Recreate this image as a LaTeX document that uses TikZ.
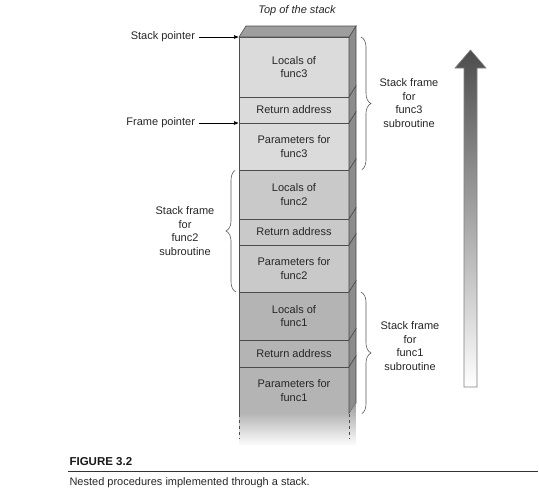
\documentclass[tikz,border=0pt]{standalone}
\usepackage{fontspec}
\setmainfont{Liberation Sans}
\usetikzlibrary{positioning,arrows,decorations.pathreplacing}
\tikzset{>=stealth'}
\definecolor{fthree}{HTML}{DBDBDB}
\definecolor{ftwo}{HTML}{C9C9C9}
\definecolor{fone}{HTML}{B4B4B4}
\definecolor{sideface}{HTML}{8C8C8C}
\definecolor{topface}{HTML}{9E9E9E}
\definecolor{ink}{HTML}{262626}

\begin{document}
\begin{tikzpicture}[x=1pt,y=-1pt,->,>=stealth',shorten >=1pt,
                    font=\fontsize{11}{13.5}\selectfont,text=ink]
      \tikzstyle{cell}=[draw=black!70,line width=0.6pt,minimum width=110pt,outer sep=0pt,inner sep=0pt,align=center]
      \tikzstyle{side}=[draw=black!70,line width=0.6pt,fill=sideface]
      \tikzstyle{frame}=[-,decorate,decoration={brace,amplitude=10pt},draw=black!65,line width=0.6pt]
      \tikzstyle{lbl}=[align=center]

      \useasboundingbox (0,0) rectangle (539,496);

      \node[cell]     (loc3)  [fill=fthree,minimum height=60pt,anchor=north west] at (239,37) {Locals of\\func3};
      \node[cell]     (ret3)  [fill=fthree,minimum height=26pt] [below=0pt of loc3] {Return address};
      \node[cell]     (par3)  [fill=fthree,minimum height=47pt] [below=0pt of ret3] {Parameters for\\func3};
      \node[cell]     (loc2)  [fill=ftwo,minimum height=49pt]   [below=0pt of par3] {Locals of\\func2};
      \node[cell]     (ret2)  [fill=ftwo,minimum height=26pt]   [below=0pt of loc2] {Return address};
      \node[cell]     (par2)  [fill=ftwo,minimum height=47pt]   [below=0pt of ret2] {Parameters for\\func2};
      \node[cell]     (loc1)  [fill=fone,minimum height=48pt]   [below=0pt of par2] {Locals of\\func1};
      \node[cell]     (ret1)  [fill=fone,minimum height=27pt]   [below=0pt of loc1] {Return address};
      \node[cell]     (par1)  [fill=fone,minimum height=47pt]   [below=0pt of ret1] {Parameters for\\func1};

      % side and top of the stack
      \foreach \n in {loc3,ret3,par3,loc2,ret2,par2,loc1,ret1,par1}
        \draw[side,-] (\n.north east) -- ++(7,-11) -- ([shift={(7,-11)}]\n.south east) -- (\n.south east) -- cycle;
      \draw[side,-,fill=topface] (loc3.north west) -- ++(7,-11) -- ([shift={(7,-11)}]loc3.north east) -- (loc3.north east) -- cycle;

      % the stack goes on below
      \shade[top color=black!38,bottom color=white] (par1.south west) -- (par1.south east) -- ++(7,-11) -- ++(0,43) -- ++(-117,0) -- cycle;
      \draw[-,dashed,black!70,line width=0.6pt] (par1.south west) -- ++(0,26);
      \draw[-,dashed,black!70,line width=0.6pt] (par1.south east) -- ++(0,26);

      \node (top)    at (297,11) {\itshape Top of the stack};
      \node (sp)     [anchor=east] at (198.5,37)  {Stack pointer};
      \node (fp)     [anchor=east] at (198.5,123) {Frame pointer};

      \path[semithick] (sp) edge (loc3.north west)
            (fp) edge (par3.north west);

      % stack frames
      \draw[frame] ([xshift=12pt]loc3.north east) -- ([xshift=12pt]par3.south east);
      \draw[frame] ([xshift=-3pt]par2.south west) -- ([xshift=-3pt]loc2.north west);
      \draw[frame] ([xshift=12pt]loc1.north east) -- ([xshift=12pt]par1.south east);
      \node[lbl] (sf3) at (409,103) {Stack frame\\for\\func3\\subroutine};
      \node[lbl] (sf2) at (185,231) {Stack frame\\for\\func2\\subroutine};
      \node[lbl] (sf1) at (410,346) {Stack frame\\for\\func1\\subroutine};

      % direction of growth
      \shade[top color=black!70,bottom color=white,draw=black!50,line width=0.6pt]
        (464,387) -- (464,68) -- (455,68) -- (470.5,50) -- (486,68) -- (477,68) -- (477,387) -- cycle;

      % caption
      \node (fig) [anchor=west,font=\fontsize{11.5}{13}\selectfont\bfseries,text=black!90] at (66,462) {FIGURE 3.2};
      \draw[-,black!80,line width=1.2pt] (68,471.5) -- (539,471.5);
      \node (cap) [anchor=west] at (66,482.5) {Nested procedures implemented through a stack.};
\end{tikzpicture}
\end{document}
